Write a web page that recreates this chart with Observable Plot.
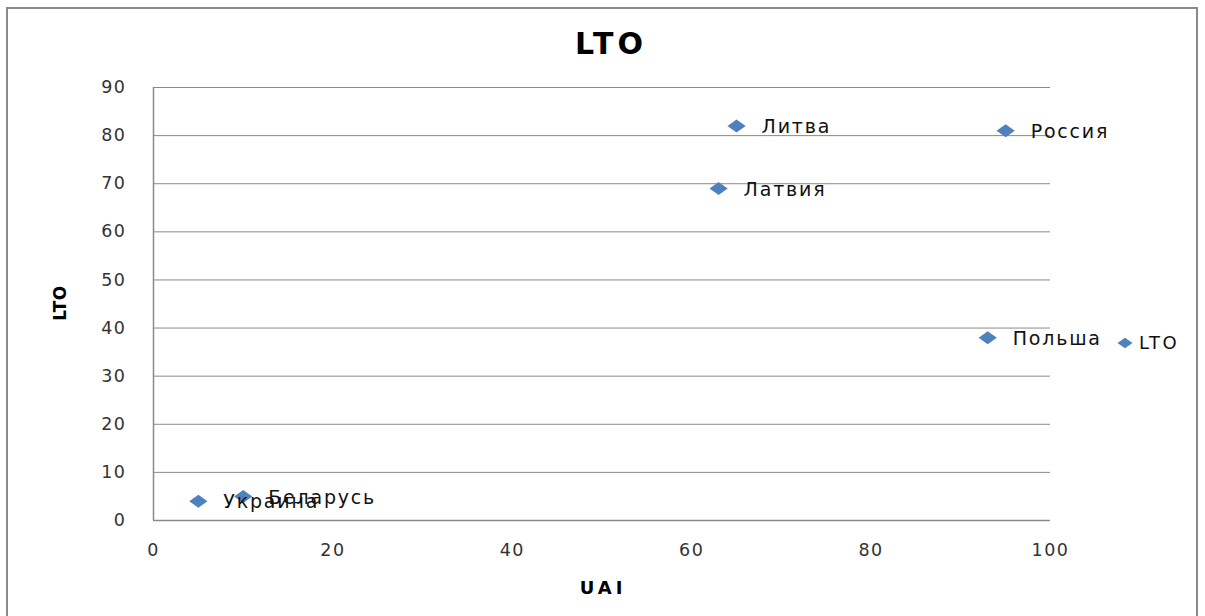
<!DOCTYPE html>
<html>
<head>
<meta charset="utf-8">
<script src="https://cdn.jsdelivr.net/npm/d3@7"></script>
<script src="https://cdn.jsdelivr.net/npm/@observablehq/plot@0.6"></script>
<style>
  html, body { margin: 0; padding: 0; background: #fff; }
  #wrap { position: relative; width: 1205px; height: 616px; overflow: hidden; font-family: "DejaVu Sans", sans-serif; }
  #frame { position: absolute; left: 6px; top: 7px; width: 1192px; height: 640px; border: 2px solid #8a8a8a; box-sizing: border-box; }
  #chart { position: absolute; left: 0; top: 0; }
  .ttl { position: absolute; font-weight: bold; color: #000; white-space: nowrap; }
  #title { left: 0; width: 1222px; top: 26px; text-align: center; font-size: 30px; letter-spacing: 4px; }
  #xlabel { left: 0; width: 1206px; top: 577px; text-align: center; font-size: 18px; letter-spacing: 4px; }
  #ylabel { left: 60px; top: 303px; font-size: 17px; transform: translate(-50%, -50%) rotate(-90deg); letter-spacing: 0.5px; }
  #legend { position: absolute; left: 1117px; top: 332px; display: flex; align-items: center; font-size: 18px; letter-spacing: 2.5px; color: #111; }
  #legend svg { margin-right: 6px; }
  g[aria-label="text"] text { letter-spacing: 1.8px; }
  g[aria-label="x-axis tick label"] text, g[aria-label="y-axis tick label"] text { letter-spacing: 1.5px; }
</style>
</head>
<body>
<div id="wrap">
  <div id="frame"></div>
  <div id="chart"></div>
  <div class="ttl" id="title">LTO</div>
  <div class="ttl" id="xlabel">UAI</div>
  <div class="ttl" id="ylabel">LTO</div>
  <div id="legend"><svg width="16" height="12" viewBox="-8 -6 16 12"><path d="M-7.5,0L0,-5.3L7.5,0L0,5.3Z" fill="#4F81BD"/></svg><span>LTO</span></div>
</div>
<script>
const countries = ["Украина", "Беларусь", "Латвия", "Литва", "Россия", "Польша"];
const uai = [5, 10, 63, 65, 95, 93];
const lto = [4, 5, 69, 82, 81, 38];
const xTicks = [0, 20, 40, 60, 80, 100];
const yTicks = [0, 10, 20, 30, 40, 50, 60, 70, 80, 90];

const data = countries.map((name, i) => ({name, uai: uai[i], lto: lto[i]}));

const wideDiamond = {
  draw(ctx, size) {
    const h = Math.sqrt(size / Math.PI);
    const w = h * 1.4;
    ctx.moveTo(-w, 0);
    ctx.lineTo(0, -h);
    ctx.lineTo(w, 0);
    ctx.lineTo(0, h);
    ctx.closePath();
  }
};

const chart = Plot.plot({
  width: 1205,
  height: 616,
  marginLeft: 153,
  marginRight: 155,
  marginTop: 87,
  marginBottom: 96,
  style: {fontFamily: "DejaVu Sans, sans-serif", fontSize: "17.5px", color: "#333", background: "transparent"},
  x: {domain: [0, 100], ticks: xTicks, tickSize: 0, tickPadding: 23, label: null},
  y: {domain: [0, 90], ticks: yTicks, tickSize: 0, tickPadding: 27, label: null},
  marks: [
    Plot.gridY(yTicks, {stroke: "#8a8a8a", strokeOpacity: 1, strokeWidth: 1}),
    Plot.ruleX([0], {stroke: "#8a8a8a", strokeWidth: 1.5}),
    Plot.ruleY([0], {stroke: "#8a8a8a", strokeWidth: 1.5}),
    Plot.dot(data, {x: "uai", y: "lto", symbol: wideDiamond, r: 6.5, fill: "#4F81BD", stroke: "none"}),
    Plot.text(data, {x: "uai", y: "lto", text: "name", dx: 25, dy: 1, textAnchor: "start", fontSize: 19, fill: "#111"})
  ]
});
document.getElementById("chart").appendChild(chart);
</script>
</body>
</html>
